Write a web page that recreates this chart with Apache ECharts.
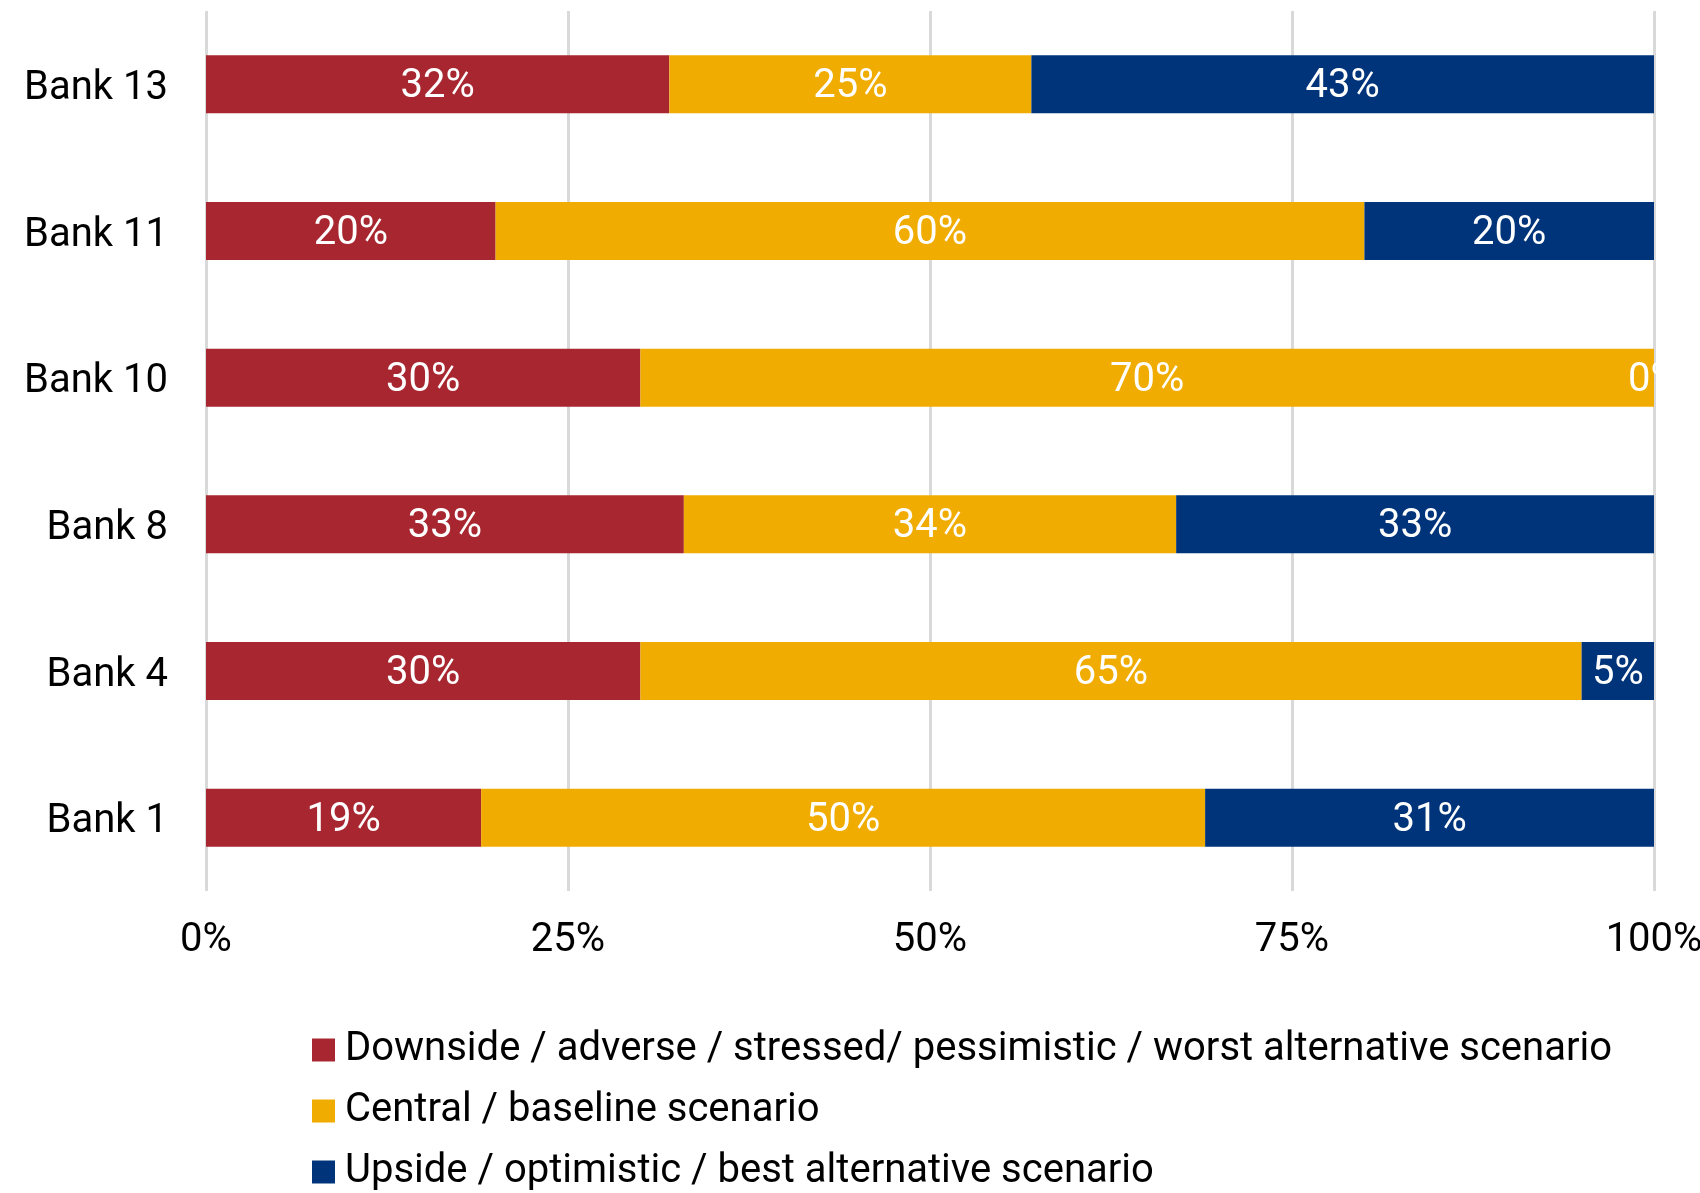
<!DOCTYPE html>
<html>
<head>
<meta charset="utf-8">
<script src="https://cdn.jsdelivr.net/npm/echarts@6/dist/echarts.min.js"></script>
<style>
  html, body { margin: 0; padding: 0; background: #fff; }
  #chart { width: 1700px; height: 1193px; }
</style>
</head>
<body>
<div id="chart"></div>
<script>
// Banks, listed top to bottom
const banks = ['Bank 13', 'Bank 11', 'Bank 10', 'Bank 8', 'Bank 4', 'Bank 1'];

// Scenario weights, percent of total per bank
const downside = [32, 20, 30, 33, 30, 19];
const central  = [25, 60, 70, 34, 65, 50];
const upside   = [43, 20, 0, 33, 5, 31];

const seriesNames = [
  'Downside / adverse / stressed/ pessimistic / worst alternative scenario',
  'Central / baseline scenario',
  'Upside / optimistic / best alternative scenario'
];
const seriesColors = ['#A82630', '#F0AC00', '#00347A'];

// Value axis ticks
const xTicks = { min: 0, max: 100, interval: 25 };

const FONT = 'Roboto';

function barSeries(name, data, color) {
  return {
    name: name,
    type: 'bar',
    stack: 'total',
    data: data,
    barWidth: 58,
    itemStyle: { color: color },
    label: {
      show: true,
      position: 'inside',
      formatter: '{c}%',
      color: '#fff',
      fontFamily: FONT,
      fontSize: 40,
      offset: [0, 3]
    },
    emphasis: { disabled: true }
  };
}

const chart = echarts.init(document.getElementById('chart'), null, { renderer: 'canvas' });
chart.setOption({
  animation: false,
  backgroundColor: '#fff',
  textStyle: { fontFamily: FONT },
  grid: {
    left: 206, right: 46, top: 11, bottom: 302,
    containLabel: false,
    outerBoundsMode: 'none'
  },
  legend: {
    orient: 'vertical',
    left: 312,
    top: 1030,
    padding: 0,
    itemWidth: 23,
    itemHeight: 23,
    itemGap: 21,
    icon: 'rect',
    selectedMode: false,
    textStyle: {
      fontFamily: FONT,
      fontSize: 40,
      color: '#000',
      lineHeight: 40,
      padding: [0, 0, 0, 5]
    },
    data: seriesNames
  },
  xAxis: {
    type: 'value',
    min: xTicks.min,
    max: xTicks.max,
    interval: xTicks.interval,
    axisLine: { show: false },
    axisTick: { show: false },
    axisLabel: {
      formatter: '{value}%',
      color: '#000',
      fontFamily: FONT,
      fontSize: 40,
      margin: 30
    },
    splitLine: { show: true, lineStyle: { color: '#d9d9d9', width: 3 } }
  },
  yAxis: {
    type: 'category',
    data: banks,
    inverse: true,
    axisLine: { show: false },
    axisTick: { show: false },
    axisLabel: {
      color: '#000',
      fontFamily: FONT,
      fontSize: 40,
      margin: 38,
      verticalAlign: 'top',
      lineHeight: 9
    }
  },
  series: [
    barSeries(seriesNames[0], downside, seriesColors[0]),
    barSeries(seriesNames[1], central, seriesColors[1]),
    barSeries(seriesNames[2], upside, seriesColors[2])
  ]
});
</script>
</body>
</html>
